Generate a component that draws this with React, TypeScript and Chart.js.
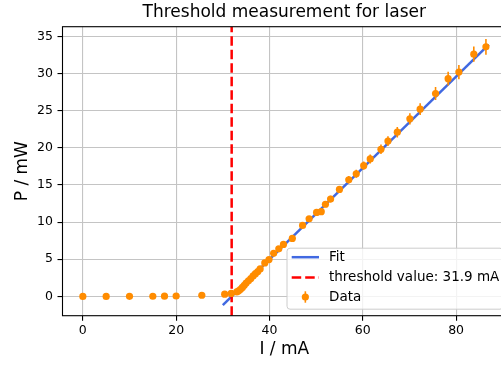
import React, { useEffect, useRef } from "react";
import { Chart, registerables } from "chart.js";

Chart.register(...registerables);

// ---- data ----
const CURRENT_MA = [
  0, 5, 10, 15, 17.5, 20, 25.5, 30.4,
  31.8, 33.0, 33.4, 33.8, 34.2, 34.6, 35.0, 35.5, 36.0, 36.5, 37.0, 37.5, 38.0,
  39.0, 39.9, 40.9, 42.0, 43.0, 44.9,
  47.1, 48.5, 50.1, 51.1, 52.0, 53.1, 55.0,
  57.0, 58.6, 60.2, 61.6, 63.9, 65.4, 67.4,
  70.1, 72.3, 75.6, 78.3, 80.6, 83.8, 86.4,
];
const POWER_MW = [
  0, 0, 0.01, 0.02, 0.03, 0.05, 0.15, 0.3,
  0.4, 0.6, 0.75, 0.95, 1.2, 1.5, 1.8, 2.1, 2.4, 2.75, 3.05, 3.35, 3.7,
  4.5, 4.95, 5.8, 6.4, 7.0, 7.8,
  9.55, 10.45, 11.3, 11.4, 12.4, 13.1, 14.4,
  15.7, 16.5, 17.6, 18.5, 19.8, 20.9, 22.1,
  23.9, 25.2, 27.3, 29.3, 30.2, 32.6, 33.6,
];
const POWER_ERR = [
  0.01, 0.01, 0.01, 0.01, 0.01, 0.01, 0.02, 0.03,
  0.03, 0.04, 0.04, 0.05, 0.06, 0.07, 0.08, 0.09, 0.1, 0.11, 0.12, 0.13, 0.14,
  0.16, 0.18, 0.2, 0.22, 0.24, 0.27,
  0.32, 0.35, 0.38, 0.38, 0.41, 0.43, 0.47,
  0.51, 0.54, 0.57, 0.6, 0.64, 0.67, 0.71,
  0.76, 0.8, 0.87, 0.93, 0.96, 1.03, 1.06,
];
const FIT_I = [30.0, 87.0];
const FIT_P = [-1.17, 33.9];
const THRESHOLD_MA = 31.9;

const X_TICKS = [0, 20, 40, 60, 80];
const Y_TICKS = [0, 5, 10, 15, 20, 25, 30, 35];
const X_LIMITS = [-4.36, 90.7];
const Y_LIMITS = [-2.6, 36.3];

const TITLE = "Threshold measurement for laser";
const X_LABEL = "I / mA";
const Y_LABEL = "P / mW";
const LEGEND_LABELS = ["Fit", `threshold value: ${THRESHOLD_MA} mA`, "Data"];

const FONT = "'DejaVu Sans', sans-serif";
const ORANGE = "#ff8c00";
const BLUE = "#4169e1";
const RED = "#ff0000";
const DASH = [9.5, 4];

const framePlugin = {
  id: "frame",
  afterDatasetsDraw(chart: any) {
    const { ctx, chartArea: a } = chart;
    ctx.save();
    ctx.strokeStyle = "#000";
    ctx.lineWidth = 1.1;
    ctx.strokeRect(a.left, a.top, a.right - a.left, a.bottom - a.top);
    ctx.restore();
  },
};

const legendPlugin = {
  id: "mplLegend",
  afterDraw(chart: any) {
    const { ctx, chartArea: a } = chart;
    const bottom = a.bottom - 6.5;
    const top = bottom - 61;
    const left = 287;
    const right = left + 216;
    ctx.save();
    const r = 3;
    ctx.beginPath();
    ctx.moveTo(left + r, top);
    ctx.lineTo(right - r, top);
    ctx.quadraticCurveTo(right, top, right, top + r);
    ctx.lineTo(right, bottom - r);
    ctx.quadraticCurveTo(right, bottom, right - r, bottom);
    ctx.lineTo(left + r, bottom);
    ctx.quadraticCurveTo(left, bottom, left, bottom - r);
    ctx.lineTo(left, top + r);
    ctx.quadraticCurveTo(left, top, left + r, top);
    ctx.closePath();
    ctx.fillStyle = "rgba(255,255,255,0.8)";
    ctx.fill();
    ctx.strokeStyle = "#cccccc";
    ctx.lineWidth = 1;
    ctx.stroke();

    const rows = [bottom - 52, bottom - 31.7, bottom - 12.2];
    const hx0 = left + 4.7;
    const hx1 = left + 32;
    ctx.strokeStyle = BLUE;
    ctx.lineWidth = 2.5;
    ctx.beginPath();
    ctx.moveTo(hx0, rows[0]);
    ctx.lineTo(hx1, rows[0]);
    ctx.stroke();
    ctx.strokeStyle = RED;
    ctx.setLineDash(DASH);
    ctx.beginPath();
    ctx.moveTo(hx0, rows[1]);
    ctx.lineTo(hx1, rows[1]);
    ctx.stroke();
    ctx.setLineDash([]);
    const cx = (hx0 + hx1) / 2;
    ctx.strokeStyle = ORANGE;
    ctx.lineWidth = 1.6;
    ctx.beginPath();
    ctx.moveTo(cx, rows[2] - 5.7);
    ctx.lineTo(cx, rows[2] + 5.7);
    ctx.stroke();
    ctx.fillStyle = ORANGE;
    ctx.beginPath();
    ctx.arc(cx, rows[2], 3.6, 0, Math.PI * 2);
    ctx.fill();

    ctx.fillStyle = "#000";
    ctx.font = `13.5px ${FONT}`;
    ctx.textBaseline = "middle";
    ctx.textAlign = "left";
    LEGEND_LABELS.forEach((t, i) => ctx.fillText(t, left + 42, rows[i]));
    ctx.restore();
  },
};

export default function App() {
  const ref = useRef<HTMLCanvasElement | null>(null);

  useEffect(() => {
    if (!ref.current) return;
    Chart.defaults.font.family = FONT;
    Chart.defaults.color = "#000";

    const points = CURRENT_MA.map((x, i) => ({ x, y: POWER_MW[i] }));
    const errBars: any[] = [];
    CURRENT_MA.forEach((x, i) => {
      errBars.push({ x, y: POWER_MW[i] - POWER_ERR[i] });
      errBars.push({ x, y: POWER_MW[i] + POWER_ERR[i] });
      errBars.push({ x, y: null });
    });
    const fit = FIT_I.map((x, i) => ({ x, y: FIT_P[i] }));
    const thr = [
      { x: THRESHOLD_MA, y: Y_LIMITS[0] },
      { x: THRESHOLD_MA, y: Y_LIMITS[1] },
    ];

    const chart = new Chart(ref.current, {
      type: "line",
      data: {
        datasets: [
          {
            label: "Data",
            data: points,
            showLine: false,
            pointRadius: 3.6,
            pointBackgroundColor: ORANGE,
            pointBorderWidth: 0,
            order: 0,
          },
          {
            label: "err",
            data: errBars,
            borderColor: ORANGE,
            borderWidth: 1.6,
            pointRadius: 0,
            spanGaps: false,
            order: 1,
          },
          {
            label: "threshold",
            data: thr,
            borderColor: RED,
            borderWidth: 2.5,
            borderDash: DASH,
            pointRadius: 0,
            order: 2,
          },
          {
            label: "Fit",
            data: fit,
            borderColor: BLUE,
            borderWidth: 2.5,
            pointRadius: 0,
            order: 3,
          },
        ],
      },
      options: {
        responsive: false,
        animation: false,
        devicePixelRatio: 1,
        layout: { padding: { top: 0, left: 0, right: 0.7, bottom: 0 } },
        plugins: {
          legend: { display: false },
          tooltip: { enabled: false },
          title: {
            display: true,
            text: TITLE,
            fullSize: false,
            color: "#000",
            font: { size: 17, weight: "normal", family: FONT },
            padding: { top: 2, bottom: 4.3 },
          },
        },
        scales: {
          x: {
            type: "linear",
            min: X_LIMITS[0],
            max: X_LIMITS[1],
            afterBuildTicks: (s: any) => {
              s.ticks = X_TICKS.map((v) => ({ value: v }));
            },
            afterFit: (s: any) => {
              s.height = 49.3;
            },
            ticks: {
              padding: 3,
              color: "#000",
              font: { size: 12.5, family: FONT },
              maxRotation: 0,
              callback: (v: any) => String(v),
            },
            grid: {
              color: "#c4c4c4",
              lineWidth: 1.1,
              drawTicks: true,
              tickLength: 5,
              tickColor: "#000",
              tickWidth: 1.1,
            },
            border: { display: false },
            title: {
              display: true,
              text: X_LABEL,
              color: "#000",
              font: { size: 17, family: FONT },
              padding: { top: 0, bottom: 4.8 },
            },
          },
          y: {
            type: "linear",
            min: Y_LIMITS[0],
            max: Y_LIMITS[1],
            afterBuildTicks: (s: any) => {
              s.ticks = Y_TICKS.map((v) => ({ value: v }));
            },
            afterFit: (s: any) => {
              s.width = 62.5;
            },
            ticks: {
              padding: 4.5,
              color: "#000",
              font: { size: 12.5, family: FONT },
              callback: (v: any) => String(v),
            },
            grid: {
              color: "#c4c4c4",
              lineWidth: 1.1,
              drawTicks: true,
              tickLength: 5,
              tickColor: "#000",
              tickWidth: 1.1,
            },
            border: { display: false },
            title: {
              display: true,
              text: Y_LABEL,
              color: "#000",
              font: { size: 17, family: FONT },
              padding: { top: 12, bottom: 0 },
            },
          },
        },
      },
      plugins: [framePlugin, legendPlugin],
    } as any);

    return () => chart.destroy();
  }, []);

  return (
    <div
      style={{
        position: "fixed",
        left: 0,
        top: 0,
        width: 501,
        height: 365,
        overflow: "hidden",
        background: "#fff",
      }}
    >
      <canvas ref={ref} width={510} height={365} style={{ display: "block" }} />
    </div>
  );
}
